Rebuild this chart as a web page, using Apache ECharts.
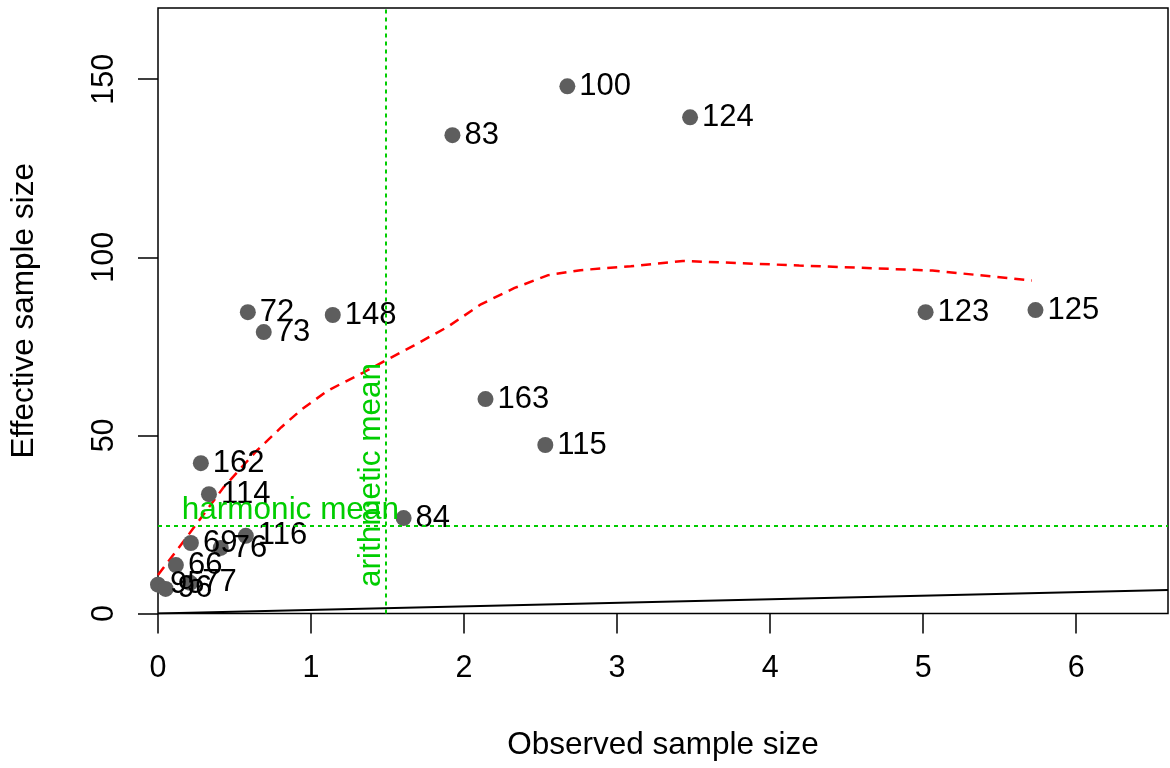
<!DOCTYPE html>
<html>
<head>
<meta charset="utf-8">
<script src="https://cdn.jsdelivr.net/npm/echarts@6/dist/echarts.min.js"></script>
<style>html,body{margin:0;padding:0;background:#fff}#c{width:1170px;height:768px}</style>
</head>
<body>
<div id="c"></div>
<script>
// ---- data ----
const pointLabels = ['100','124','83','72','148','73','123','125','163','115','162','114','84','116','69','76','66','77','95','96'];
const observed    = [2.675,3.477,1.924,0.587,1.142,0.691,5.016,5.734,2.140,2.531,0.280,0.333,1.605,0.574,0.215,0.410,0.117,0.210,0.000,0.050];
const effective   = [148.0,139.3,134.3,84.6,83.8,79.0,84.6,85.2,60.2,47.3,42.2,33.5,26.8,21.8,19.8,18.4,13.6,8.6,8.1,6.9];
const smoothX = [0.00,0.17,0.43,0.645,0.806,0.936,1.11,1.348,1.49,1.674,1.89,2.11,2.33,2.55,2.76,3.09,3.43,4.19,5.06,5.71];
const smoothY = [10.8,20.4,35.5,45.7,52.3,57.2,62.6,67.8,71.1,75.3,80.4,86.8,91.4,95.0,96.4,97.5,99.0,97.7,96.3,93.5];
const harmonicMean = 24.7;
const arithmeticMean = 1.491;
const xTicks = [0,1,2,3,4,5,6];
const yTicks = [0,50,100,150];
const X_MAX = 6.60, Y_MAX = 170;

const FONT = '"Liberation Sans", Arial, Helvetica, sans-serif';
const GREEN = '#00cd00';

const chart = echarts.init(document.getElementById('c'), null, {renderer:'canvas'});
const pts = observed.map((x,i)=>({name: pointLabels[i], value:[x, effective[i]]}));
const curve = smoothX.map((x,i)=>[x, smoothY[i]]);

chart.setOption({
  animation:false,
  backgroundColor:'#fff',
  grid:{left:156.4, right:2, top:8, bottom:154.5, show:true, borderColor:'#000', borderWidth:1.5, backgroundColor:'transparent'},
  xAxis:{type:'value', min:0, max:X_MAX,
    name:'Observed sample size', nameLocation:'middle', nameGap:116,
    nameTextStyle:{fontFamily:FONT, fontSize:31.5, color:'#000'},
    axisLine:{show:false},
    axisTick:{show:true, inside:false, length:20, customValues:xTicks, lineStyle:{color:'#000', width:1.5}},
    axisLabel:{customValues:xTicks, margin:40, fontFamily:FONT, fontSize:30.5, color:'#000', formatter:v=>String(v)},
    splitLine:{show:false}},
  yAxis:{type:'value', min:0, max:Y_MAX,
    name:'Effective sample size', nameLocation:'middle', nameGap:118, nameRotate:90,
    nameTextStyle:{fontFamily:FONT, fontSize:31.5, color:'#000'},
    axisLine:{show:false},
    axisTick:{show:true, inside:false, length:20, customValues:yTicks, lineStyle:{color:'#000', width:1.5}},
    axisLabel:{customValues:yTicks, rotate:90, margin:38, fontFamily:FONT, fontSize:30.5, color:'#000', formatter:v=>String(v)},
    splitLine:{show:false}},
  series:[
    {type:'line', data:[[0,0],[X_MAX,X_MAX]], symbol:'none', lineStyle:{color:'#000', width:2}, silent:true, z:2},
    {type:'line', data:curve, symbol:'none', smooth:false, lineStyle:{color:'#ff0000', width:2.5, type:[10,7]}, silent:true, z:3},
    {type:'scatter', data:pts, symbolSize:16, itemStyle:{color:'#5e5e5e', opacity:1}, z:4,
      label:{show:true, position:'right', distance:4, formatter:p=>p.name, fontFamily:FONT, fontSize:31, color:'#000'}},
    {type:'line', data:[], symbol:'none', z:5,
      markLine:{silent:true, symbol:'none', label:{show:false},
        lineStyle:{color:GREEN, width:2, type:[4,4]},
        data:[{yAxis:harmonicMean},{xAxis:arithmeticMean}]}}
  ]
});

function placeText(){
  const h = chart.convertToPixel({gridIndex:0},[0.865, harmonicMean]);
  const a = chart.convertToPixel({gridIndex:0},[arithmeticMean, 38.9]);
  chart.setOption({graphic:[
    {type:'text', x:h[0], y:h[1]+1, z:100, style:{text:'harmonic mean', fill:GREEN, font:'31.5px '+FONT, textAlign:'center', textVerticalAlign:'bottom'}},
    {type:'text', x:a[0]+1, y:a[1], rotation:Math.PI/2, z:100, style:{text:'arithmetic mean', fill:GREEN, font:'31.5px '+FONT, textAlign:'center', textVerticalAlign:'bottom'}}
  ]});
}
placeText();
</script>
</body>
</html>
